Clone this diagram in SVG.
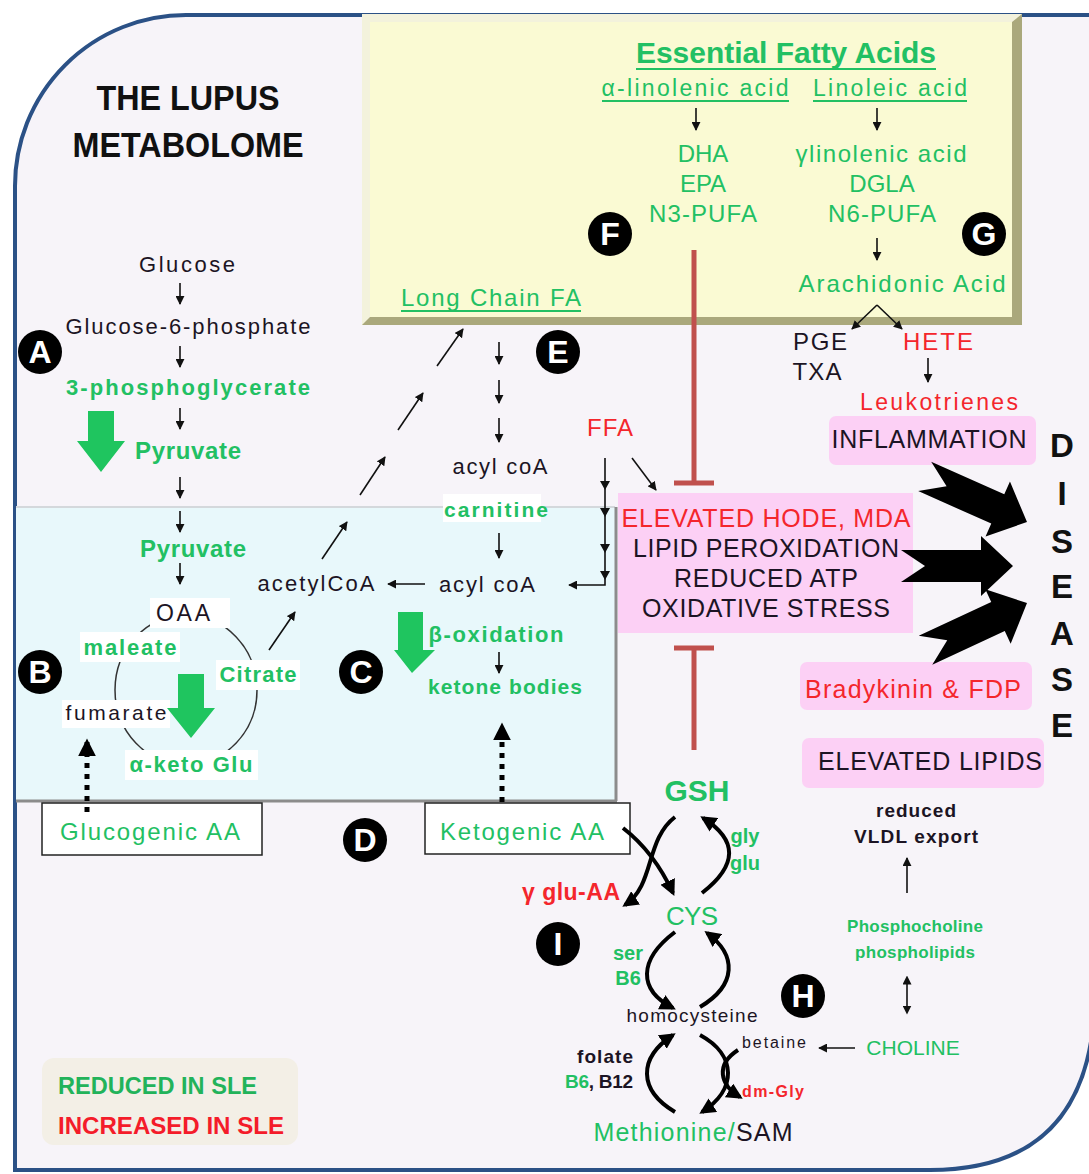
<svg xmlns="http://www.w3.org/2000/svg" width="1089" height="1174" viewBox="0 0 1089 1174">
<style>
text{font-family:"Liberation Sans",Arial,sans-serif}
.g{fill:#22c063}
.r{fill:#f4262c}
.k{fill:#1c1424}
.b{font-weight:bold}
.m{text-anchor:middle}
.ln{stroke:#111;stroke-width:1.6;fill:none}
.cv{stroke:#000;stroke-width:4;fill:none}
.pk{fill:#fcd0f5}
.wb{fill:#fff}
.bd circle{fill:#000}
.bd text{fill:#fff;font-weight:bold;font-size:32px;text-anchor:middle}
.inh{stroke:#c0504d;stroke-width:5;fill:none}
.ul{stroke:#22c063;stroke-width:2}
.dot{stroke:#000;stroke-width:5;stroke-dasharray:5 6;fill:none}
</style>
<defs>
<marker id="a" viewBox="0 0 10 10" refX="9" refY="5" markerWidth="9" markerHeight="9" markerUnits="userSpaceOnUse" orient="auto"><path d="M0,0 L10,5 L0,10 z" fill="#111"/></marker>
<marker id="ab" viewBox="0 0 10 10" refX="8" refY="5" markerWidth="16" markerHeight="16" markerUnits="userSpaceOnUse" orient="auto"><path d="M0,0 L10,5 L0,10 z" fill="#000"/></marker>
<marker id="ad" viewBox="0 0 10 10" refX="8" refY="5" markerWidth="18" markerHeight="18" markerUnits="userSpaceOnUse" orient="auto"><path d="M0,0 L10,5 L0,10 z" fill="#000"/></marker>
<path id="big" d="M0,0 L-32,-30 L-32,-16 L-112,-16 L-88,0 L-112,16 L-32,16 L-32,30 Z"/>
<marker id="a2" viewBox="0 0 10 10" refX="5" refY="5" markerWidth="9" markerHeight="9" markerUnits="userSpaceOnUse" orient="auto-start-reverse"><path d="M0,0 L10,5 L0,10 z" fill="#111"/></marker>
</defs>

<rect width="1089" height="1174" fill="#ffffff"/>
<path id="frame" d="M15,1170 L15,186 A171,171 0 0 1 186,15 L1095,15 L1095,990 C1095,1110 1040,1170 930,1170 Z" fill="#f7f4f9" stroke="#2b5186" stroke-width="4"/>

<g id="title">
<text x="188" y="110" class="b m" font-size="35" fill="#111" textLength="183" lengthAdjust="spacingAndGlyphs">THE  LUPUS</text>
<text x="188" y="157" class="b m" font-size="35" fill="#111" textLength="231" lengthAdjust="spacingAndGlyphs">METABOLOME</text>
</g>

<g id="efa-box">
<rect x="362" y="14" width="660" height="311" fill="#aaa87c"/>
<polygon points="362,14 1022,14 1012,22 370,22 370,317 362,325" fill="#f3f2dc"/>
<rect x="370" y="22" width="642" height="295" fill="#fafad3"/>
<text x="786" y="63" class="g b m" font-size="30" textLength="300" lengthAdjust="spacingAndGlyphs">Essential Fatty Acids</text>
<line x1="636" y1="69" x2="936" y2="69" class="ul" stroke-width="2.5"/>
<text x="695" y="96" class="g m" font-size="23" textLength="187">α-linolenic acid</text>
<line x1="602" y1="101" x2="789" y2="101" class="ul"/>
<text x="890" y="96" class="g m" font-size="23" textLength="154">Linoleic acid</text>
<line x1="813" y1="101" x2="967" y2="101" class="ul"/>
<text x="703" y="162" class="g m" font-size="24">DHA</text>
<text x="703" y="192" class="g m" font-size="24">EPA</text>
<text x="703" y="222" class="g m" font-size="24" textLength="108">N3-PUFA</text>
<text x="881" y="162" class="g m" font-size="24" textLength="171">γlinolenic acid</text>
<text x="882" y="192" class="g m" font-size="24">DGLA</text>
<text x="882" y="222" class="g m" font-size="24" textLength="108">N6-PUFA</text>
<text x="902" y="292" class="g m" font-size="24" textLength="207">Arachidonic Acid</text>
<text x="491" y="306" class="g m" font-size="24" textLength="180">Long Chain FA</text>
<line x1="401" y1="311" x2="581" y2="311" class="ul"/>
</g>

<g id="tca-box">
<rect x="16" y="507" width="599" height="293" fill="#e8f8fb"/>
<line x1="16" y1="507" x2="615" y2="507" stroke="#d4d8dc" stroke-width="2"/>
<line x1="616" y1="507" x2="616" y2="801" stroke="#8c8c8c" stroke-width="3"/>
<line x1="16" y1="801" x2="617" y2="801" stroke="#8c8c8c" stroke-width="3"/>
<ellipse cx="186" cy="690" rx="71" ry="75" fill="none" stroke="#333" stroke-width="1.5"/>
<rect x="150" y="598" width="80" height="30" class="wb"/>
<rect x="80" y="632" width="100" height="30" class="wb"/>
<rect x="216" y="660" width="84" height="30" class="wb"/>
<rect x="62" y="700" width="108" height="28" class="wb"/>
<rect x="125" y="750" width="133" height="30" class="wb"/>
<rect x="443" y="494" width="98" height="28" class="wb"/>
</g>

<g id="glycolysis">
<text x="187" y="272" class="k m" font-size="22" textLength="96">Glucose</text>
<text x="188" y="334" class="k m" font-size="22" textLength="245">Glucose-6-phosphate</text>
<text x="188" y="395" class="g b m" font-size="22" textLength="244">3-phosphoglycerate</text>
<text x="188" y="459" class="g b m" font-size="24" textLength="106">Pyruvate</text>
<text x="193" y="557" class="g b m" font-size="24" textLength="106">Pyruvate</text>
<polygon points="88,411 114,411 114,441 125,441 101,472 77,441 88,441" fill="#1fc55f"/>
</g>

<g id="tca">
<text x="183" y="621" class="k m" font-size="23" textLength="54">OAA</text>
<text x="130" y="655" class="g b m" font-size="22" textLength="93">maleate</text>
<text x="258" y="682" class="g b m" font-size="22" textLength="77">Citrate</text>
<text x="116" y="720" class="k m" font-size="21" textLength="101">fumarate</text>
<text x="191" y="772" class="g b m" font-size="22" textLength="123">α-keto Glu</text>
<polygon points="178,674 204,674 204,708 215,708 191,738 167,708 178,708" fill="#1fc55f"/>
<text x="316" y="591" class="k m" font-size="22" textLength="117">acetylCoA</text>
</g>

<g id="fatty-acid">
<text x="500" y="474" class="k m" font-size="22" textLength="95">acyl coA</text>
<text x="496" y="517" class="g b m" font-size="21" textLength="104">carnitine</text>
<text x="487" y="592" class="k m" font-size="22" textLength="96">acyl coA</text>
<text x="496" y="642" class="g b m" font-size="22" textLength="135">β-oxidation</text>
<text x="505" y="694" class="g b m" font-size="21" textLength="154">ketone bodies</text>
<polygon points="398,612 423,612 423,650 435,650 412,673 394,650 398,650" fill="#1fc55f"/>
<text x="610" y="436" class="r m" font-size="24" textLength="46">FFA</text>
</g>

<g id="aa-boxes">
<rect x="42" y="803" width="220" height="52" fill="#fff" stroke="#222" stroke-width="1.5"/>
<text x="150" y="840" class="g m" font-size="24" textLength="180">Glucogenic AA</text>
<rect x="425" y="803" width="205" height="51" fill="#fff" stroke="#222" stroke-width="1.5"/>
<text x="522" y="840" class="g m" font-size="24" textLength="164">Ketogenic AA</text>
</g>

<g id="effects">
<rect x="618" y="493" width="295" height="140" class="pk"/>
<text x="766" y="527" class="r m" font-size="25" textLength="289">ELEVATED HODE, MDA</text>
<text x="766" y="557" class="k m" font-size="25" textLength="266">LIPID PEROXIDATION</text>
<text x="766" y="587" class="k m" font-size="25" textLength="184">REDUCED ATP</text>
<text x="766" y="617" class="k m" font-size="25" textLength="248">OXIDATIVE STRESS</text>
<rect x="829" y="416" width="207" height="49" rx="7" class="pk"/>
<text x="929" y="448" class="k m" font-size="25" textLength="195">INFLAMMATION</text>
<rect x="800" y="662" width="232" height="48" rx="7" class="pk"/>
<text x="913" y="698" class="r m" font-size="25" textLength="216">Bradykinin &amp; FDP</text>
<rect x="802" y="738" width="242" height="50" rx="7" class="pk"/>
<text x="930" y="770" class="k m" font-size="25" textLength="224">ELEVATED LIPIDS</text>
<text x="820" y="350" class="k m" font-size="24" textLength="54">PGE</text>
<text x="817" y="380" class="k m" font-size="24" textLength="49">TXA</text>
<text x="938" y="350" class="r m" font-size="24" textLength="70">HETE</text>
<text x="939" y="410" class="r m" font-size="23" textLength="158">Leukotrienes</text>
</g>

<g id="disease">
<text x="1062" y="457" class="b m" font-size="33" fill="#111">D</text>
<text x="1062" y="505" class="b m" font-size="33" fill="#111">I</text>
<text x="1062" y="553" class="b m" font-size="33" fill="#111">S</text>
<text x="1062" y="598" class="b m" font-size="33" fill="#111">E</text>
<text x="1062" y="645" class="b m" font-size="33" fill="#111">A</text>
<text x="1062" y="691" class="b m" font-size="33" fill="#111">S</text>
<text x="1062" y="737" class="b m" font-size="33" fill="#111">E</text>
<use href="#big" transform="translate(1027,522) rotate(24)"/>
<use href="#big" transform="translate(1013,566)"/>
<use href="#big" transform="translate(1027,603) rotate(-25)"/>
</g>

<g id="sulfur">
<text x="697" y="801" class="g b m" font-size="30" textLength="65">GSH</text>
<text x="692" y="925" class="g m" font-size="26" textLength="52">CYS</text>
<text x="692" y="1022" class="k m" font-size="19" textLength="131">homocysteine</text>
<text x="693" y="1141" class="m" font-size="25" textLength="199"><tspan class="g">Methionine/</tspan><tspan class="k">SAM</tspan></text>
<text x="571" y="900" class="r b m" font-size="23" textLength="98">γ glu-AA</text>
<text x="745" y="843" class="g b m" font-size="20">gly</text>
<text x="745" y="870" class="g b m" font-size="20">glu</text>
<text x="628" y="960" class="g b m" font-size="20">ser</text>
<text x="628" y="985" class="g b m" font-size="20">B6</text>
<text x="605" y="1063" class="k b m" font-size="19" textLength="56">folate</text>
<text x="599" y="1088" class="b m" font-size="19" textLength="68"><tspan class="g">B6</tspan><tspan class="k">, B12</tspan></text>
<text x="774" y="1048" class="k m" font-size="16" textLength="64">betaine</text>
<text x="773" y="1097" class="r b m" font-size="16" textLength="62">dm-Gly</text>
</g>

<g id="choline">
<text x="916" y="817" class="k b m" font-size="19" textLength="80">reduced</text>
<text x="916" y="843" class="k b m" font-size="19" textLength="124">VLDL export</text>
<text x="915" y="932" class="g b m" font-size="17" textLength="136">Phosphocholine</text>
<text x="915" y="958" class="g b m" font-size="17" textLength="120">phospholipids</text>
<text x="913" y="1055" class="g m" font-size="21">CHOLINE</text>
</g>

<g id="legend">
<rect x="42" y="1058" width="256" height="87" rx="12" fill="#f3efe6"/>
<text x="58" y="1094" class="b" font-size="24" fill="#22b35a" textLength="199" lengthAdjust="spacingAndGlyphs">REDUCED IN SLE</text>
<text x="58" y="1134" class="b" font-size="24" fill="#f41c2a" textLength="226" lengthAdjust="spacingAndGlyphs">INCREASED IN SLE</text>
</g>

<g id="connectors">
<line x1="696" y1="108" x2="696" y2="130" class="ln" marker-end="url(#a)"/>
<line x1="877" y1="108" x2="877" y2="130" class="ln" marker-end="url(#a)"/>
<line x1="877" y1="238" x2="877" y2="260" class="ln" marker-end="url(#a)"/>
<line x1="180" y1="283" x2="180" y2="304" class="ln" marker-end="url(#a)"/>
<line x1="180" y1="346" x2="180" y2="367" class="ln" marker-end="url(#a)"/>
<line x1="180" y1="408" x2="180" y2="429" class="ln" marker-end="url(#a)"/>
<line x1="180" y1="477" x2="180" y2="498" class="ln" marker-end="url(#a)"/>
<line x1="180" y1="511" x2="180" y2="532" class="ln" marker-end="url(#a)"/>
<line x1="180" y1="563" x2="180" y2="584" class="ln" marker-end="url(#a)"/>
<line x1="425" y1="584" x2="388" y2="584" class="ln" marker-end="url(#a)"/>
<line x1="269" y1="650" x2="295" y2="612" class="ln" marker-end="url(#a)"/>
<line x1="322" y1="559" x2="347" y2="522" class="ln" marker-end="url(#a)"/>
<line x1="360" y1="495" x2="385" y2="457" class="ln" marker-end="url(#a)"/>
<line x1="398" y1="430" x2="423" y2="393" class="ln" marker-end="url(#a)"/>
<line x1="437" y1="366" x2="463" y2="329" class="ln" marker-end="url(#a)"/>
<line x1="499" y1="342" x2="499" y2="364" class="ln" marker-end="url(#a)"/>
<line x1="499" y1="380" x2="499" y2="403" class="ln" marker-end="url(#a)"/>
<line x1="499" y1="418" x2="499" y2="442" class="ln" marker-end="url(#a)"/>
<line x1="499" y1="533" x2="499" y2="558" class="ln" marker-end="url(#a)"/>
<line x1="499" y1="652" x2="499" y2="673" class="ln" marker-end="url(#a)"/>
<polyline points="605,458 605,585 569,585" class="ln" marker-end="url(#a)"/>
<path d="M605,490 L600,481 L610,481 Z M605,517 L600,508 L610,508 Z M605,553 L600,544 L610,544 Z M605,580 L600,571 L610,571 Z" fill="#111"/>
<line x1="632" y1="458" x2="656" y2="490" class="ln" marker-end="url(#a)"/>
<line x1="877" y1="305" x2="852" y2="329" class="ln" marker-end="url(#a)"/>
<line x1="877" y1="305" x2="902" y2="329" class="ln" marker-end="url(#a)"/>
<line x1="928" y1="358" x2="928" y2="382" class="ln" marker-end="url(#a)"/>
<line x1="87" y1="812" x2="87" y2="742" class="dot" marker-end="url(#ad)"/>
<line x1="502" y1="802" x2="502" y2="726" class="dot" marker-end="url(#ad)"/>
<path d="M694,250 L694,483 M674,483 L714,483" class="inh"/>
<path d="M694,750 L694,648 M674,648 L714,648" class="inh"/>
<path d="M675,817 C645,840 655,885 625,905" class="cv" marker-end="url(#ab)"/>
<path d="M623,828 C645,845 660,865 673,893" class="cv" marker-end="url(#ab)"/>
<path d="M702,893 C738,865 738,840 703,818" class="cv" marker-end="url(#ab)"/>
<path d="M675,932 C638,960 638,990 673,1008" class="cv" marker-end="url(#ab)"/>
<path d="M700,1007 C737,985 737,955 707,933" class="cv" marker-end="url(#ab)"/>
<path d="M675,1112 C638,1090 638,1058 673,1035" class="cv" marker-end="url(#ab)"/>
<path d="M700,1035 C737,1055 737,1090 702,1112" class="cv" marker-end="url(#ab)"/>
<path d="M738,1050 C715,1065 720,1085 740,1097" class="cv" stroke-width="3.5" marker-end="url(#ab)"/>
<line x1="907" y1="893" x2="907" y2="858" class="ln" marker-end="url(#a)"/>
<line x1="907" y1="980" x2="907" y2="1010" class="ln" marker-start="url(#a2)" marker-end="url(#a2)"/>
<line x1="855" y1="1048" x2="819" y2="1048" class="ln" marker-end="url(#a)"/>
</g>

<g id="badges" class="bd">
<g id="badge-A"><circle cx="40" cy="352" r="22"/><text x="40" y="363">A</text></g>
<g id="badge-B"><circle cx="40" cy="672" r="22"/><text x="40" y="683">B</text></g>
<g id="badge-C"><circle cx="361" cy="672" r="22"/><text x="361" y="683">C</text></g>
<g id="badge-D"><circle cx="365" cy="840" r="22"/><text x="365" y="851">D</text></g>
<g id="badge-E"><circle cx="558" cy="352" r="22"/><text x="558" y="363">E</text></g>
<g id="badge-F"><circle cx="610" cy="234" r="22"/><text x="610" y="245">F</text></g>
<g id="badge-G"><circle cx="984" cy="234" r="22"/><text x="984" y="245">G</text></g>
<g id="badge-H"><circle cx="803" cy="996" r="22"/><text x="803" y="1007">H</text></g>
<g id="badge-I"><circle cx="558" cy="944" r="22"/><text x="558" y="955">I</text></g>
</g>
</svg>
